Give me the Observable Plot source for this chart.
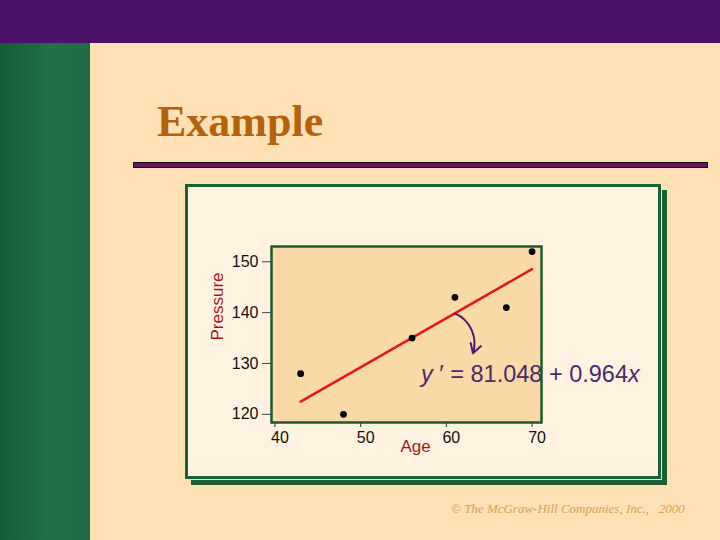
<!DOCTYPE html>
<html>
<head>
<meta charset="utf-8">
<script src="https://cdn.jsdelivr.net/npm/d3@7"></script>
<script src="https://cdn.jsdelivr.net/npm/@observablehq/plot@0.6"></script>
<style>
  html, body { margin: 0; padding: 0; background: #fde0b3; }
  #page { position: relative; width: 720px; height: 540px; overflow: hidden; background: #fde0b3; }
  #topband { position: absolute; left: 0; top: 0; width: 720px; height: 43px; background: #4a1166; }
  #sidebar { position: absolute; left: 0; top: 43px; width: 90px; height: 497px;
    background: linear-gradient(to right, #165b37 0%, #22704a 55%, #1f6a45 100%); }
  #title { position: absolute; left: 157px; top: 100px; font-family: "Liberation Serif", "Times New Roman", serif;
    font-weight: bold; font-size: 44px; line-height: 44px; color: #b5620e; white-space: nowrap; }
  #rule { position: absolute; left: 133px; top: 162px; width: 573px; height: 4px; background: #6c1266;
    border: 1px solid #111; }
  #panel { position: absolute; left: 185px; top: 184px; width: 476px; height: 295px; box-sizing: border-box;
    background: #fff2e0; border: 3px solid #1d6035;
    box-shadow: 1px 1px 0 #efe6c6, 6px 6px 0 #1d6035; }
  #chart { position: absolute; left: 185px; top: 184px; width: 476px; height: 295px; }
  #footer { position: absolute; left: 451px; top: 502px; font-family: "Liberation Serif", "Times New Roman", serif;
    font-style: italic; font-size: 13px; line-height: 13px; color: #d6a25a; white-space: pre; }
</style>
</head>
<body>
<div id="page">
  <div id="topband"></div>
  <div id="sidebar"></div>
  <div id="title">Example</div>
  <div id="rule"></div>
  <div id="panel"></div>
  <div id="chart"></div>
  <div id="footer">© The McGraw-Hill Companies, Inc.,   2000</div>
</div>
<script>
// ---- data ----
const ages = [43, 48, 56, 61, 67, 70];
const pressures = [128, 120, 135, 143, 141, 152];
const xTicks = [40, 50, 60, 70];
const yTicks = [120, 130, 140, 150];
const xLabel = "Age";
const yLabel = "Pressure";
const equationParts = ["y", " \u2032 ", "= 81.048 + 0.964", "x"];
const intercept = 81.048;
const slope = 0.964;
// annotation anchor points (data space)
const arrowFromAge = 61;
const arrowToAge = 63.1;
const arrowToPressure = 132;
const equationAge = 57.05;
const equationPressure = 127.9;

const data = ages.map((a, i) => ({age: a, pressure: pressures[i]}));
const arrowData = [{x1: arrowFromAge, y1: intercept + slope * arrowFromAge, x2: arrowToAge, y2: arrowToPressure}];
const equationText = equationParts.join("");

const sans = "'Liberation Sans', Arial, sans-serif";

const chart = Plot.plot({
  width: 476,
  height: 295,
  marginLeft: 86,
  marginRight: 120,
  marginTop: 62,
  marginBottom: 57,
  style: {background: "transparent", fontFamily: sans, fontSize: "16px", color: "#222", overflow: "visible"},
  x: {domain: [39.6, 71.1]},
  y: {domain: [118.4, 153.0]},
  marks: [
    Plot.frame({fill: "#fad9a8"}),
    Plot.axisX({ticks: xTicks, tickSize: 5, fill: "none", stroke: "#333", label: null}),
    Plot.axisX({ticks: xTicks, tickSize: 5, tickPadding: 4, stroke: "none", fill: "#111", dx: 5, label: null}),
    Plot.axisY({ticks: yTicks, tickSize: 9, tickPadding: 4, stroke: "#444", fill: "#111", label: null}),
    Plot.text([xLabel], {frameAnchor: "bottom", textAnchor: "middle", dx: 9, dy: 29, lineAnchor: "bottom", fill: "#a0181c", fontSize: 17, text: d => d}),
    Plot.text([yLabel], {frameAnchor: "left", textAnchor: "middle", rotate: -90, dx: -54, dy: -28, fill: "#a0181c", fontSize: 17, text: d => d}),
    Plot.linearRegressionY(data, {x: "age", y: "pressure", stroke: "#e0181c", strokeWidth: 2.5, ci: 0}),
    Plot.dot(data, {x: "age", y: "pressure", r: 3.4, fill: "#000", stroke: "none"}),
    Plot.arrow(arrowData, {x1: "x1", y1: "y1", x2: "x2", y2: "y2", bend: 42, stroke: "#4b1a6b", strokeWidth: 2, headLength: 8}),
    Plot.text([equationText], {x: () => equationAge, y: () => equationPressure, text: d => d, textAnchor: "start",
      lineAnchor: "middle", fill: "#4b2a6b", fontSize: 23.5, fontFamily: sans}),
    Plot.frame({stroke: "#1e5a2e", strokeWidth: 2.5})
  ]
});
document.getElementById("chart").appendChild(chart);

// rich text for the equation (italic variables)
const ns = "http://www.w3.org/2000/svg";
chart.querySelectorAll("text").forEach(eq => {
  if (eq.textContent !== equationText) return;
  while (eq.firstChild) eq.removeChild(eq.firstChild);
  equationParts.forEach((p, i) => {
    const t = document.createElementNS(ns, "tspan");
    t.textContent = p;
    if (i === 0 || i === 3) t.style.fontStyle = "italic";
    eq.appendChild(t);
  });
  eq.style.whiteSpace = "pre";
});
</script>
</body>
</html>
